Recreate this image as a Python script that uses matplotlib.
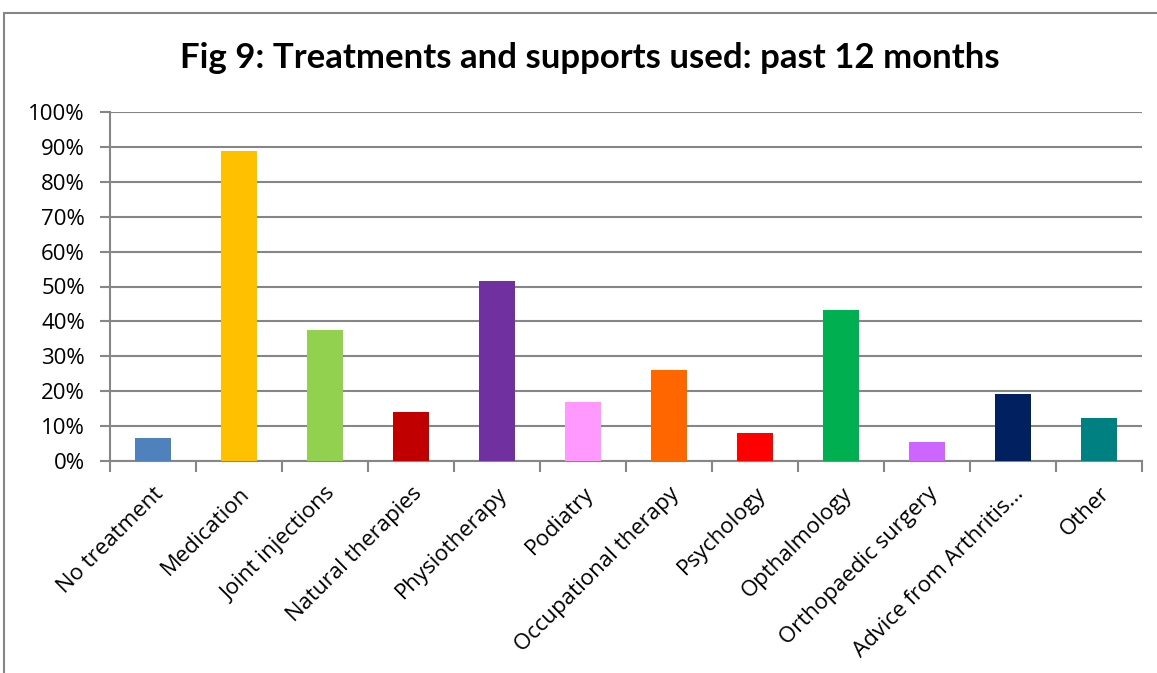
import matplotlib
matplotlib.use("Agg")
import matplotlib.pyplot as plt
from matplotlib.patches import Rectangle
from matplotlib.ticker import FixedLocator, PercentFormatter

categories = ["No treatment", "Medication", "Joint injections", "Natural therapies",
              "Physiotherapy", "Podiatry", "Occupational therapy", "Psychology",
              "Opthalmology", "Orthopaedic surgery", "Advice from Arthritis...", "Other"]
shares = [6.7, 88.9, 37.4, 13.9, 51.5, 16.8, 26.2, 8.1, 43.2, 5.5, 19.3, 12.4]
colors = ["#4f81bd", "#ffc000", "#92d050", "#c00000", "#7030a0", "#ff99ff",
          "#ff6600", "#ff0000", "#00b050", "#cc66ff", "#002060", "#008080"]

plt.rcParams["font.family"] = ["Open Sans", "DejaVu Sans"]
grey = "#868686"

fig = plt.figure(figsize=(11.57, 6.73), dpi=100)
ax = fig.add_axes([110 / 1157, 1 - 461 / 673, 1032 / 1157, 349 / 673])

# chart frame
fig.patches.append(Rectangle((4 / 1157, -0.1), 1.2, 1 - 13 / 673 + 0.1,
                             transform=fig.transFigure, fill=False,
                             edgecolor=grey, linewidth=1.5))

x = range(len(categories))
ax.bar(x, shares, width=0.41, color=colors, zorder=3)

ax.set_xlim(-0.5, len(categories) - 0.5)
ax.set_ylim(0, 100)
ax.set_yticks(range(0, 101, 10))
ax.yaxis.set_major_formatter(PercentFormatter(decimals=0))
ax.grid(axis="y", color=grey, linewidth=1.5, zorder=0)

ax.set_xticks(list(x))
ax.set_xticklabels(categories, rotation=45, ha="right", rotation_mode="anchor", fontsize=16)
ax.xaxis.set_minor_locator(FixedLocator([i - 0.5 for i in range(len(categories) + 1)]))
ax.tick_params(axis="x", which="major", length=0, pad=16)
ax.tick_params(axis="x", which="minor", length=8, width=1.5, color=grey)
ax.tick_params(axis="y", length=7, width=1.5, color=grey, labelsize=16, pad=11)

for side in ("top", "right"):
    ax.spines[side].set_visible(False)
for side in ("left", "bottom"):
    ax.spines[side].set_color(grey)
    ax.spines[side].set_linewidth(1.5)

fig.text(590 / 1157, 1 - 58 / 673, "Fig 9: Treatments and supports used: past 12 months",
         ha="center", va="center", fontsize=25, fontweight="bold", family=["Lato", "DejaVu Sans"])

fig.savefig("out.png", dpi=100)
